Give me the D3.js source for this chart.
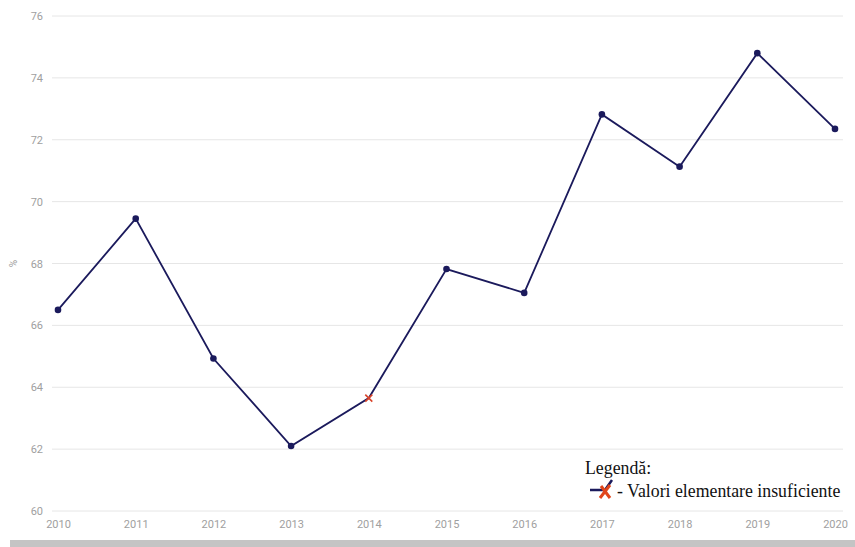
<!DOCTYPE html>
<html>
<head>
<meta charset="utf-8">
<script src="https://cdn.jsdelivr.net/npm/d3@7"></script>
<style>
  html, body { margin: 0; padding: 0; background: #fff; }
  svg { display: block; }
</style>
</head>
<body>
<div id="chart"></div>
<script>
// Yearly share (%) with a flag for years where elementary values were insufficient
const years = [2010, 2011, 2012, 2013, 2014, 2015, 2016, 2017, 2018, 2019, 2020];
const values = [66.5, 69.45, 64.93, 62.1, 63.65, 67.82, 67.05, 72.82, 71.13, 74.8, 72.35];
const insufficient = [false, false, false, false, true, false, false, false, false, false, false];
const yTicks = [60, 62, 64, 66, 68, 70, 72, 74, 76];
const yLabel = "%";
const legendTitle = "Legendă:";
const legendText = "- Valori elementare insuficiente";

const W = 855, H = 547;
const svg = d3.select("#chart").append("svg").attr("width", W).attr("height", H);

const x = d3.scalePoint().domain(years).range([58, 835]);
const y = d3.scaleLinear().domain([60, 76]).range([511, 16]);

// horizontal grid
svg.append("g").selectAll("line").data(yTicks).join("line")
  .attr("x1", 52).attr("x2", 843)
  .attr("y1", d => y(d)).attr("y2", d => y(d))
  .attr("stroke", "#e6e6e6").attr("stroke-width", 1);

// y axis labels
const yAxis = svg.append("g").attr("transform", "translate(43,0)")
  .call(d3.axisLeft(y).tickValues(yTicks).tickSize(0).tickPadding(0));
yAxis.select(".domain").remove();
yAxis.selectAll("text").attr("fill", "#a0a0a0").attr("font-family", "Roboto, Arial, sans-serif").attr("font-size", 11);

// x axis labels
const xAxis = svg.append("g").attr("transform", "translate(0,520)")
  .call(d3.axisBottom(x).tickSize(0).tickPadding(0).tickFormat(d3.format("d")));
xAxis.select(".domain").remove();
xAxis.selectAll("text").attr("fill", "#a0a0a0").attr("font-family", "Roboto, Arial, sans-serif").attr("font-size", 11);

// y axis title
svg.append("text")
  .attr("transform", `translate(17,${y(68)}) rotate(-90)`)
  .attr("text-anchor", "middle")
  .attr("fill", "#a0a0a0").attr("font-family", "Roboto, Arial, sans-serif").attr("font-size", 10)
  .text(yLabel);

const data = years.map((yr, i) => ({ yr, v: values[i], flag: insufficient[i] }));
const navy = "#1b1a5c";

svg.append("path").datum(data)
  .attr("fill", "none").attr("stroke", navy).attr("stroke-width", 1.8)
  .attr("d", d3.line().x(d => x(d.yr)).y(d => y(d.v)));

svg.append("g").selectAll("circle").data(data.filter(d => !d.flag)).join("circle")
  .attr("cx", d => x(d.yr)).attr("cy", d => y(d.v)).attr("r", 3.3).attr("fill", navy);

// cross markers for insufficient values
const cross = svg.append("g").selectAll("g").data(data.filter(d => d.flag)).join("g")
  .attr("transform", d => `translate(${x(d.yr)},${y(d.v)})`);
cross.append("path").attr("d", "M-3.5,-3.5L3.5,3.5M-3.5,3.5L3.5,-3.5")
  .attr("stroke", "#d9442a").attr("stroke-width", 1.6);

// legend
const lg = svg.append("g");
lg.append("rect").attr("x", 578).attr("y", 455).attr("width", 267).attr("height", 48).attr("fill", "#fff");
lg.append("text").attr("x", 585).attr("y", 474)
  .attr("font-family", "'Liberation Serif', 'Times New Roman', serif").attr("font-size", 17.8).attr("fill", "#111")
  .text(legendTitle);
lg.append("path").attr("d", "M590,490L605,490L612,480").attr("fill", "none").attr("stroke", navy).attr("stroke-width", 2.5);
lg.append("path").attr("d", "M600,498L610,485M601,486L610,498").attr("stroke", "#e0461c").attr("stroke-width", 3);
lg.append("text").attr("x", 617).attr("y", 497)
  .attr("font-family", "'Liberation Serif', 'Times New Roman', serif").attr("font-size", 17.8).attr("fill", "#111")
  .text(legendText);

// bottom bar
svg.append("rect").attr("x", 10).attr("y", 540).attr("width", 845).attr("height", 7).attr("fill", "#c4c4c4");
</script>
</body>
</html>
